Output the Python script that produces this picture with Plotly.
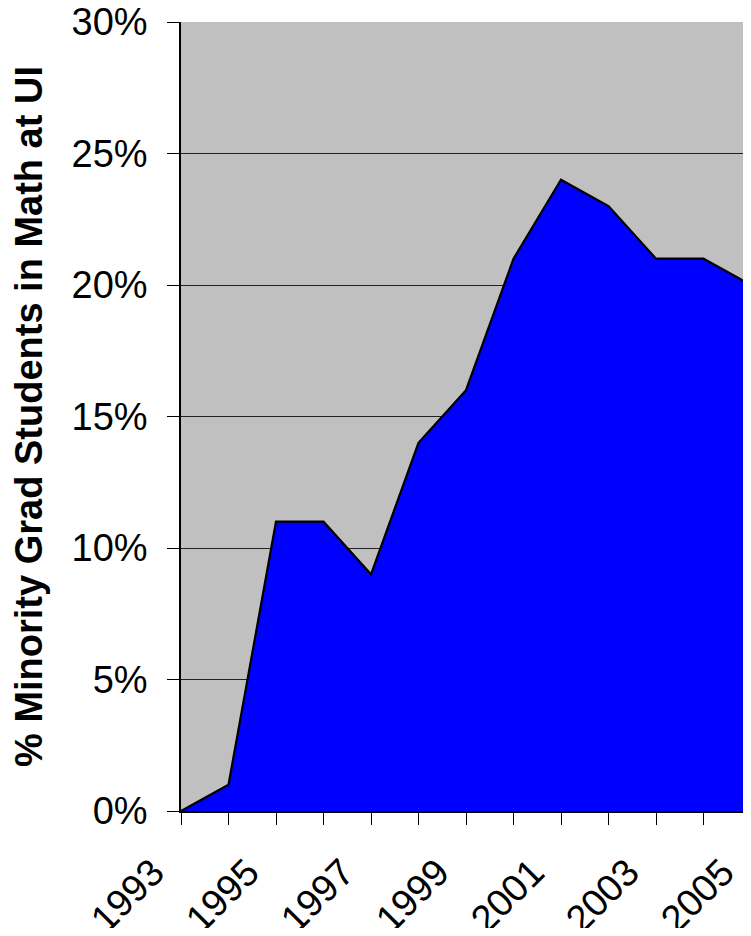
import plotly.graph_objects as go

# Minority grad students in math at UI, share by year
years = [1993, 1994, 1995, 1996, 1997, 1998, 1999, 2000, 2001, 2002, 2003, 2004, 2005]
share = [0.00, 0.01, 0.11, 0.11, 0.09, 0.14, 0.16, 0.21, 0.24, 0.23, 0.21, 0.21, 0.20]
tick_labels = [str(y) if y % 2 == 1 else "" for y in years]

fig = go.Figure()
fig.add_trace(
    go.Scatter(
        x=years,
        y=share,
        mode="lines",
        fill="tozeroy",
        fillcolor="#0000FF",
        line=dict(color="black", width=2.2),
        hoverinfo="skip",
    )
)

# page body keeps an 8px margin, so the figure is offset by it
font = "Arial, Liberation Sans, sans-serif"
fig.update_layout(
    width=743,
    height=920,
    margin=dict(l=173, r=0, t=14, b=117),
    paper_bgcolor="white",
    plot_bgcolor="#C0C0C0",
    showlegend=False,
    font=dict(family=font, color="black", size=38),
)
fig.update_xaxes(
    range=[1993, 2005],
    tickvals=years,
    ticktext=tick_labels,
    tickangle=-45,
    ticks="outside",
    ticklen=12,
    tickcolor="black",
    tickfont=dict(size=38),
    ticklabelshift=-28,
    ticklabelstandoff=10,
    ticklabeloverflow="allow",
    showgrid=False,
    showline=True,
    linecolor="black",
    linewidth=1.5,
    zeroline=False,
    automargin=False,
)
fig.update_yaxes(
    range=[0, 0.30],
    tickvals=[0, 0.05, 0.10, 0.15, 0.20, 0.25, 0.30],
    tickformat=".0%",
    ticks="outside",
    ticklen=12,
    tickcolor="black",
    tickfont=dict(size=38),
    ticklabelstandoff=12,
    ticklabeloverflow="allow",
    showgrid=True,
    gridcolor="#222222",
    gridwidth=1,
    showline=True,
    linecolor="black",
    linewidth=1.5,
    zeroline=False,
    automargin=False,
    title=dict(
        text="<b>% Minority Grad Students in Math at UI</b>",
        font=dict(size=38),
        standoff=41,
    ),
)

fig.write_html("out.html")
